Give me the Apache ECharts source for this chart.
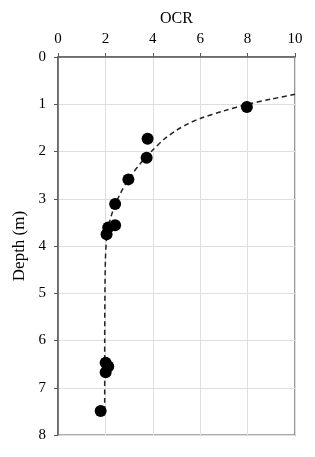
<!DOCTYPE html>
<html>
<head>
<meta charset="utf-8">
<script src="https://cdn.jsdelivr.net/npm/echarts@6/dist/echarts.min.js"></script>
<style>html,body{margin:0;padding:0;background:#fff}#c{width:315px;height:457px}</style>
</head>
<body>
<div id="c"></div>
<script>
// Measured points: [OCR, depth (m)]
var pointOCR = [7.97, 3.78, 3.74, 2.97, 2.41, 2.41, 2.12, 2.05, 2.01, 2.12, 2.01, 1.80];
var pointDepth = [1.06, 1.73, 2.13, 2.59, 3.11, 3.56, 3.61, 3.75, 6.47, 6.55, 6.67, 7.49];
// Fitted trend (dashed)
var curveOCR = [10, 9, 8, 7, 6, 5.5, 5, 4.5, 4, 3.5, 3, 2.6, 2.3, 2.12, 2.04, 2.0, 1.98, 1.97, 1.97];
var curveDepth = [0.79, 0.89, 1.0, 1.14, 1.30, 1.41, 1.55, 1.73, 1.97, 2.24, 2.57, 2.92, 3.28, 3.6, 3.9, 4.3, 5.0, 6.0, 7.45];
var xTicks = [0, 2, 4, 6, 8, 10];
var yTicks = [0, 1, 2, 3, 4, 5, 6, 7, 8];

var pts = pointOCR.map(function (v, i) { return [v, pointDepth[i]]; });
var crv = curveOCR.map(function (v, i) { return [v, curveDepth[i]]; });
var font = 'Liberation Serif';
var chart = echarts.init(document.getElementById('c'));
chart.setOption({
  animation: false,
  backgroundColor: '#fff',
  grid: { left: 58, right: 20, top: 57, bottom: 22, show: true, borderColor: '#595959', borderWidth: 1.2 },
  xAxis: {
    type: 'value', position: 'top', min: xTicks[0], max: xTicks[xTicks.length - 1], interval: 2,
    name: 'OCR', nameLocation: 'middle', nameGap: 30,
    nameTextStyle: { fontFamily: font, fontSize: 16, color: '#000' },
    axisLine: { show: true, lineStyle: { color: '#595959', width: 1.5 } },
    axisTick: { show: true, length: 4, lineStyle: { color: '#595959' } },
    axisLabel: { fontFamily: font, fontSize: 15, color: '#000', margin: 10 },
    splitLine: { show: true, lineStyle: { color: '#dedede' } }
  },
  yAxis: {
    type: 'value', inverse: true, min: yTicks[0], max: yTicks[yTicks.length - 1], interval: 1,
    name: 'Depth (m)', nameLocation: 'middle', nameGap: 29, nameRotate: 90,
    nameTextStyle: { fontFamily: font, fontSize: 17, color: '#000' },
    axisLine: { show: true, lineStyle: { color: '#595959', width: 1.5 } },
    axisTick: { show: true, length: 4, lineStyle: { color: '#595959' } },
    axisLabel: { fontFamily: font, fontSize: 15, color: '#000', margin: 12 },
    splitLine: { show: true, lineStyle: { color: '#dedede' } }
  },
  series: [
    {
      type: 'line', data: crv, symbol: 'none', smooth: 0.3,
      lineStyle: { color: '#222', width: 1.5, type: [5, 3.5] }, z: 2
    },
    {
      type: 'scatter', data: pts, symbol: 'circle', symbolSize: 12,
      itemStyle: { color: '#000', opacity: 1 }, z: 3
    }
  ]
});
</script>
</body>
</html>
